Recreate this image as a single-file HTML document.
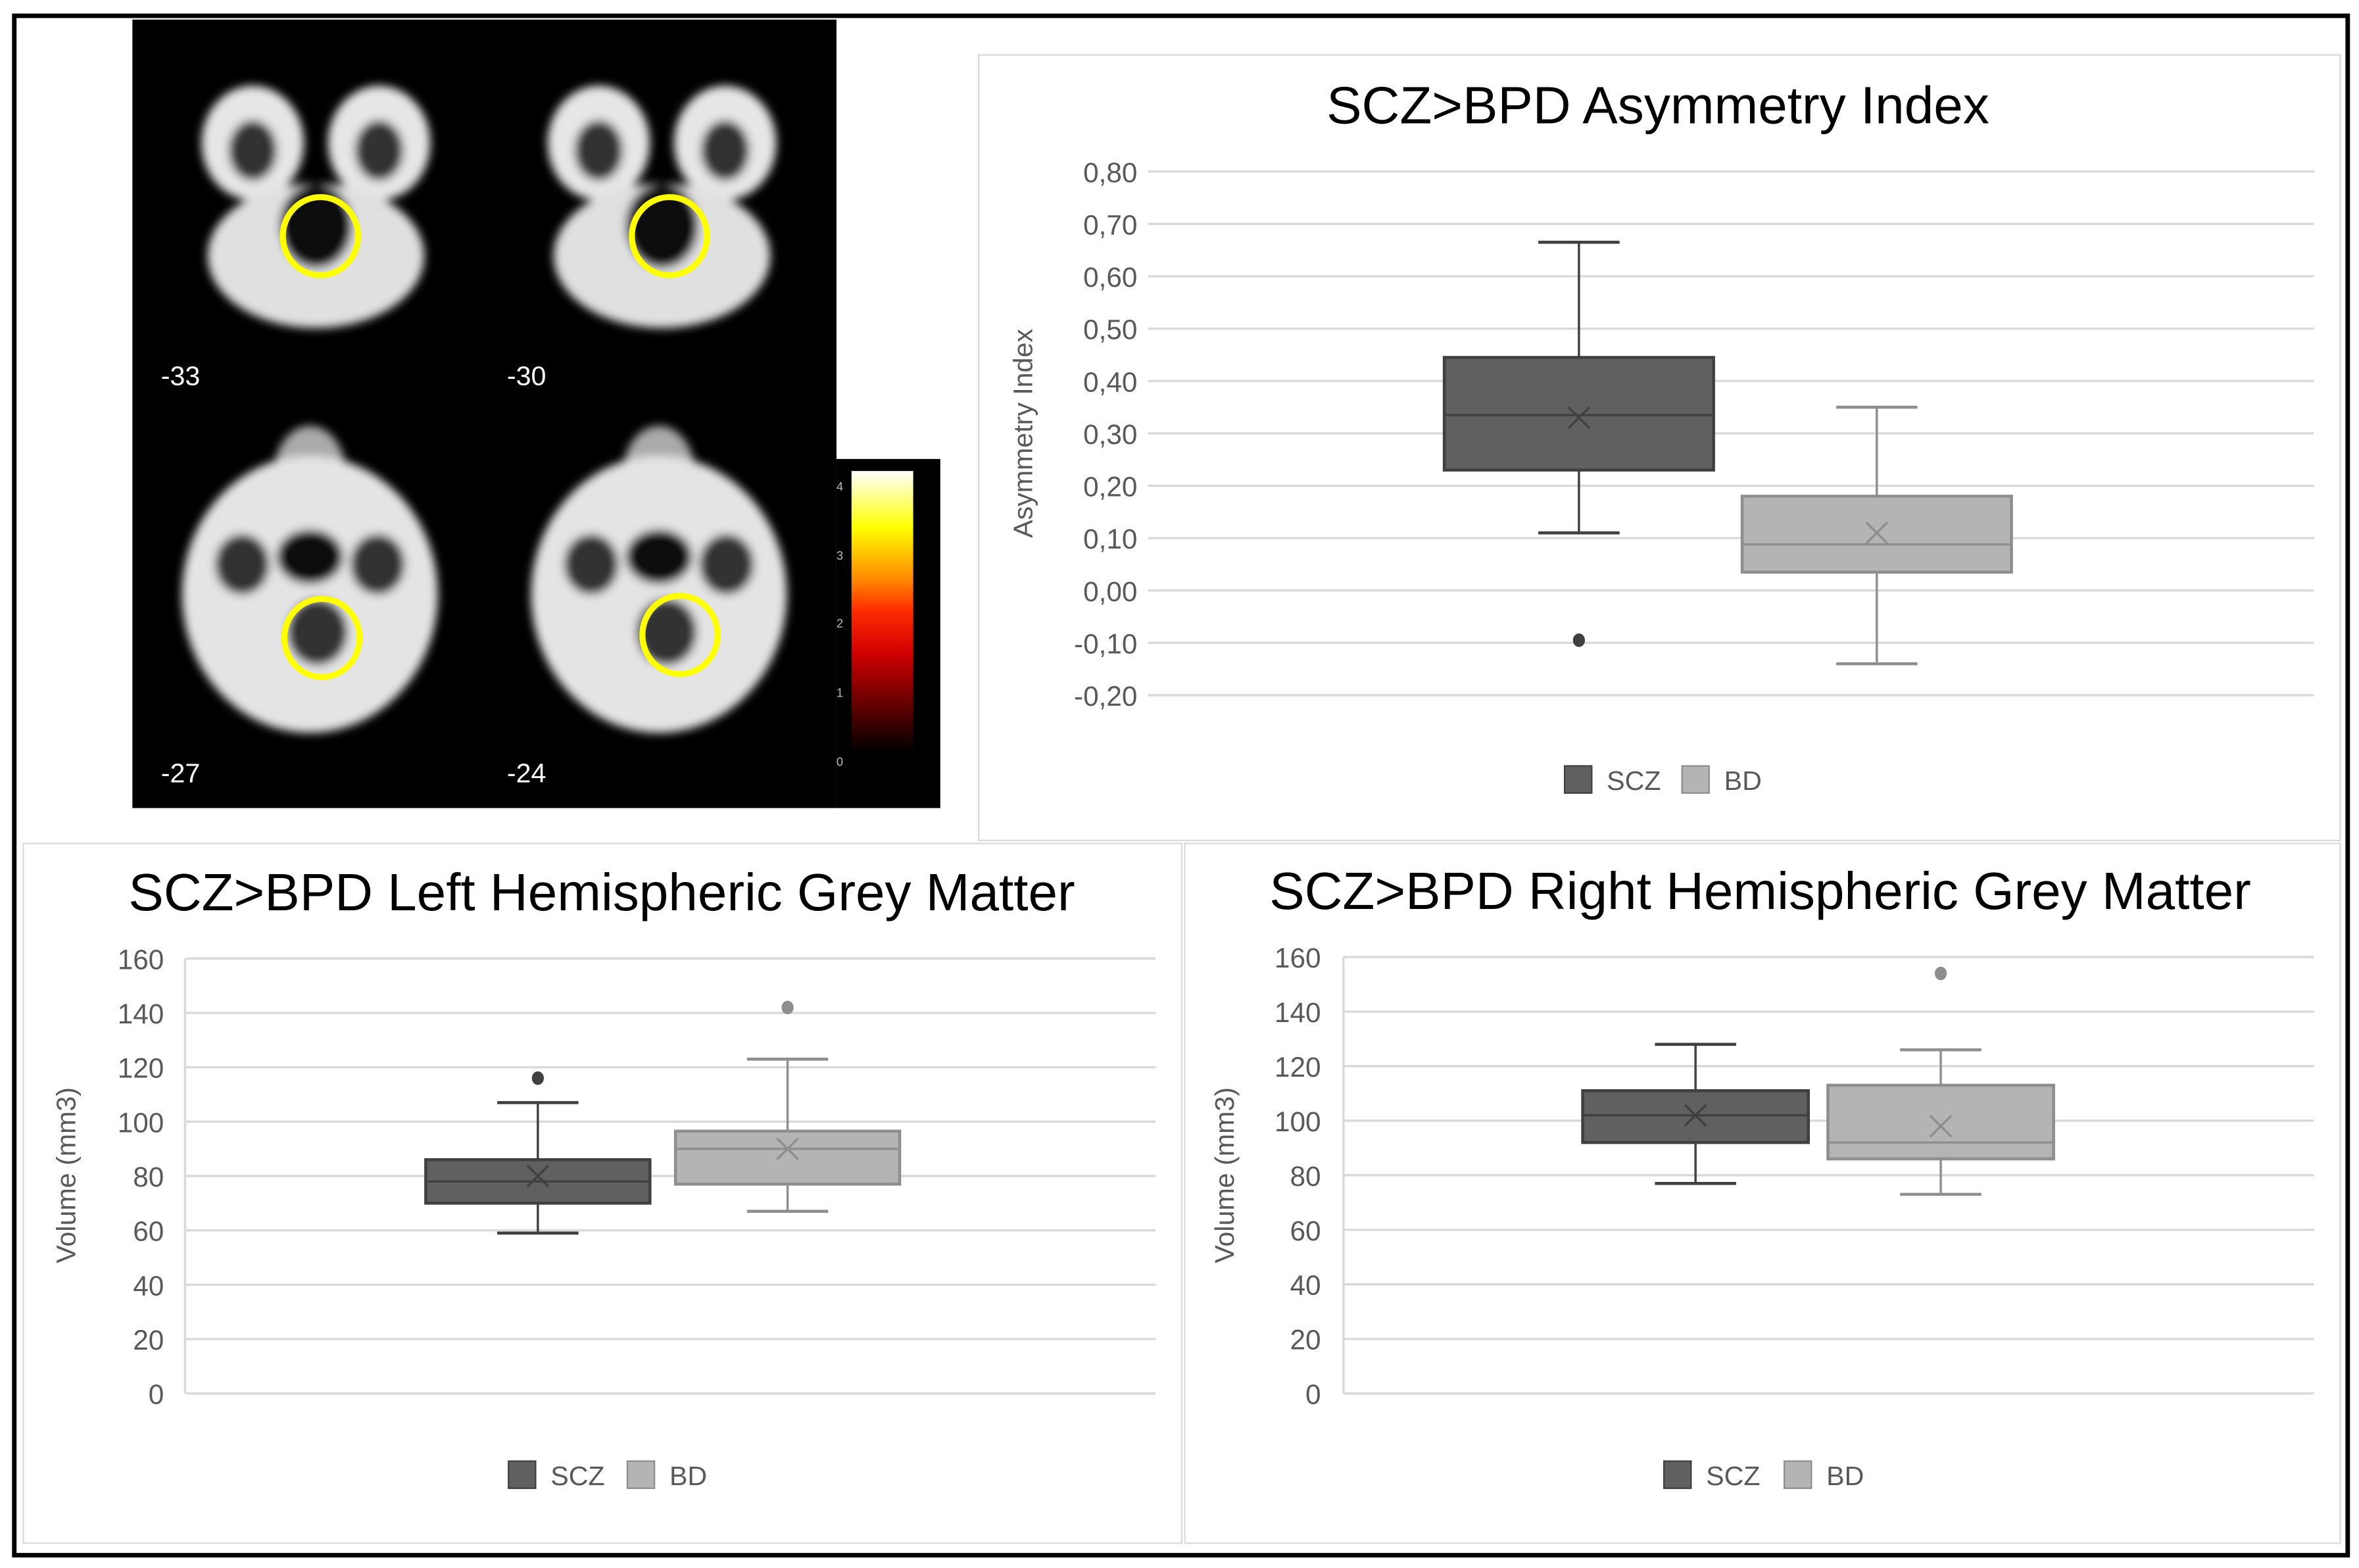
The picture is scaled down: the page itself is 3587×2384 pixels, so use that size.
<!DOCTYPE html>
<html><head><meta charset="utf-8"><style>
html,body{margin:0;padding:0;background:#fff;}
svg{display:block;}
text{font-family:"Liberation Sans",sans-serif;}
</style></head><body>
<svg id="fig" width="3587" height="2384" viewBox="0 0 1568 1042" preserveAspectRatio="none" xmlns="http://www.w3.org/2000/svg">
<defs>
<filter id="blur" x="-20%" y="-20%" width="140%" height="140%"><feGaussianBlur stdDeviation="3"/></filter>
<linearGradient id="cbar" x1="0" y1="1" x2="0" y2="0">
<stop offset="0" stop-color="#000"/><stop offset="0.35" stop-color="#d00000"/><stop offset="0.5" stop-color="#ff2a00"/><stop offset="0.62" stop-color="#ff8c00"/><stop offset="0.8" stop-color="#ffff00"/><stop offset="1" stop-color="#ffffff"/>
</linearGradient>
</defs>
<rect x="0" y="0" width="1568" height="1042" fill="#fff"/>
<rect x="9.5" y="10.5" width="1551" height="1023" fill="none" stroke="#000" stroke-width="3"/>

<g>
<rect x="88" y="13" width="468" height="524" fill="#000"/>
<rect x="556" y="305" width="69" height="232" fill="#000"/>
<rect x="566" y="313" width="41" height="187" fill="url(#cbar)"/>
<g fill="#bbb" font-size="8">
<text x="556" y="326">4</text><text x="556" y="372">3</text><text x="556" y="417">2</text><text x="556" y="463">1</text><text x="556" y="509">0</text>
</g>
<g id="brains" filter="url(#blur)"></g>
<g fill="none" stroke="#ffff00" stroke-width="4">
<ellipse cx="213" cy="157" rx="25" ry="26"/>
<ellipse cx="445" cy="157" rx="25" ry="26"/>
<ellipse cx="214" cy="424" rx="25" ry="26"/>
<ellipse cx="452" cy="422" rx="25" ry="26"/>
</g>
<g fill="#fff" font-size="18">
<text x="107" y="256">-33</text>
<text x="337" y="256">-30</text>
<text x="107" y="520">-27</text>
<text x="337" y="520">-24</text>
</g>
</g>

<rect x="650.5" y="36.5" width="905" height="522" fill="none" stroke="#d9d9d9"/>
<rect x="15.5" y="560.5" width="770" height="465" fill="none" stroke="#d9d9d9"/>
<rect x="787.5" y="560.5" width="768" height="465" fill="none" stroke="#d9d9d9"/>
<g id="charts"></g>
</svg>
<script>
// ---- Chart data ----
var categories = ["SCZ", "BD"];
// Asymmetry index: [min whisker, q1, median, q3, max whisker, mean]
var asymSCZ = [0.11, 0.23, 0.335, 0.445, 0.665, 0.33];
var asymBD = [-0.14, 0.035, 0.088, 0.18, 0.35, 0.11];
var asymOutSCZ = [-0.095];
var asymOutBD = [];
var asymTicks = ["-0,20","-0,10","0,00","0,10","0,20","0,30","0,40","0,50","0,60","0,70","0,80"];
var asymTickVals = [-0.2,-0.1,0,0.1,0.2,0.3,0.4,0.5,0.6,0.7,0.8];
// Left hemispheric grey matter
var leftSCZ = [59, 70, 78, 86, 107, 80];
var leftBD = [67, 77, 90, 96.5, 123, 90];
var leftOutSCZ = [116];
var leftOutBD = [142];
// Right hemispheric grey matter
var rightSCZ = [77, 92, 102, 111, 128, 102];
var rightBD = [73, 86, 92, 113, 126, 98];
var rightOutSCZ = [];
var rightOutBD = [154];
var volTicks = ["0","20","40","60","80","100","120","140","160"];
var volTickVals = [0,20,40,60,80,100,120,140,160];

var NS = "http://www.w3.org/2000/svg";
var root = document.getElementById("charts");
function mk(tag, attrs, parent, txt) {
  var e = document.createElementNS(NS, tag);
  for (var k in attrs) e.setAttribute(k, attrs[k]);
  if (txt !== undefined) e.textContent = txt;
  (parent || root).appendChild(e);
  return e;
}
var styles = [{fill:"#606060", stroke:"#404040"}, {fill:"#b4b4b4", stroke:"#8e8e8e"}];

function chart(cfg) {
  var g = mk("g", {});
  
  
  var vmin = cfg.tickVals[0], vmax = cfg.tickVals[cfg.tickVals.length-1];
  function y(v) { return cfg.yBottom - (v - vmin) / (vmax - vmin) * (cfg.yBottom - cfg.yTop); }
  var t = mk("text", {x: cfg.titleX, y: cfg.titleY, "font-size": 35, "text-anchor": "middle", fill: "#000"}, g, cfg.title);
  
  
  for (var i = 0; i < cfg.tickVals.length; i++) {
    var yy = y(cfg.tickVals[i]);
    var gl = mk("line", {x1: cfg.x0, x2: cfg.x1, y1: yy, y2: yy, stroke: "#d9d9d9", "stroke-width": 1.5}, g);
    
    
    var tl = mk("text", {x: cfg.labelX, y: yy + 7, "font-size": 18.5, "text-anchor": "end", fill: "#595959"}, g, cfg.ticks[i]);
    
    
  }
  if (cfg.axisLine) {
    var al = mk("line", {x1: cfg.x0, x2: cfg.x0, y1: cfg.yTop, y2: cfg.yBottom, stroke: "#d9d9d9", "stroke-width": 1.5}, g);
    
    
  }
  var at = mk("text", {x: 0, y: 0, "font-size": 18, "text-anchor": "middle", fill: "#595959", transform: "translate(" + cfg.axisTitleX + "," + cfg.axisTitleY + ") rotate(-90)"}, g, cfg.axisTitle);
  
  
  for (var s = 0; s < cfg.series.length; s++) {
    var d = cfg.series[s], st = styles[s];
    var bx0 = cfg.boxX[s], bw = cfg.boxW, cx = bx0 + bw / 2, cw = 27;
    var bg = mk("g", {}, g);
    
    
    mk("line", {x1: cx, x2: cx, y1: y(d[0]), y2: y(d[1]), stroke: st.stroke, "stroke-width": 1.5}, bg);
    mk("line", {x1: cx, x2: cx, y1: y(d[3]), y2: y(d[4]), stroke: st.stroke, "stroke-width": 1.5}, bg);
    mk("line", {x1: cx - cw, x2: cx + cw, y1: y(d[0]), y2: y(d[0]), stroke: st.stroke, "stroke-width": 2}, bg);
    mk("line", {x1: cx - cw, x2: cx + cw, y1: y(d[4]), y2: y(d[4]), stroke: st.stroke, "stroke-width": 2}, bg);
    mk("rect", {x: bx0, y: y(d[3]), width: bw, height: y(d[1]) - y(d[3]), fill: st.fill, stroke: st.stroke, "stroke-width": 2}, bg);
    mk("line", {x1: bx0, x2: bx0 + bw, y1: y(d[2]), y2: y(d[2]), stroke: st.stroke, "stroke-width": 1.5}, bg);
    var my = y(d[5]);
    mk("path", {d: "M" + (cx-7) + " " + (my-7) + "L" + (cx+7) + " " + (my+7) + "M" + (cx+7) + " " + (my-7) + "L" + (cx-7) + " " + (my+7), stroke: st.stroke, "stroke-width": 1.5, fill: "none"}, bg);
    var outs = cfg.outliers[s];
    for (var o = 0; o < outs.length; o++) {
      var c = mk("ellipse", {cx: cx, cy: y(outs[o]), rx: 4, ry: 4.5, fill: st.stroke}, bg);
      
      
    }
  }
  var lx = cfg.legendX;
  for (var l = 0; l < categories.length; l++) {
    var lg = mk("g", {}, g);
    
    
    mk("rect", {x: lx + (l ? cfg.legendGap : 0), y: cfg.legendY - 9, width: 18, height: 18, fill: styles[l].fill, stroke: styles[l].stroke}, lg);
    mk("text", {x: lx + (l ? cfg.legendGap : 0) + 28, y: cfg.legendY + 7, "font-size": 18, fill: "#595959"}, lg, categories[l]);
  }
}

chart({name: "asymmetry-chart", title: "SCZ>BPD Asymmetry Index", titleX: 1102, titleY: 82,
  x0: 763, x1: 1538, yTop: 114, yBottom: 462, labelX: 756, ticks: asymTicks, tickVals: asymTickVals,
  axisTitle: "Asymmetry Index", axisTitleX: 686, axisTitleY: 288, axisLine: false,
  series: [asymSCZ, asymBD], outliers: [asymOutSCZ, asymOutBD], boxX: [960, 1158], boxW: 179,
  legendX: 1040, legendGap: 78, legendY: 518});
chart({name: "left-gm-chart", title: "SCZ>BPD Left Hemispheric Grey Matter", titleX: 400, titleY: 605,
  x0: 123, x1: 768, yTop: 637, yBottom: 926, labelX: 109, ticks: volTicks, tickVals: volTickVals,
  axisTitle: "Volume (mm3)", axisTitleX: 50, axisTitleY: 781, axisLine: true,
  series: [leftSCZ, leftBD], outliers: [leftOutSCZ, leftOutBD], boxX: [283, 449], boxW: 149,
  legendX: 338, legendGap: 79, legendY: 980});
chart({name: "right-gm-chart", title: "SCZ>BPD Right Hemispheric Grey Matter", titleX: 1170, titleY: 604,
  x0: 893, x1: 1538, yTop: 636, yBottom: 926, labelX: 878, ticks: volTicks, tickVals: volTickVals,
  axisTitle: "Volume (mm3)", axisTitleX: 820, axisTitleY: 781, axisLine: true,
  series: [rightSCZ, rightBD], outliers: [rightOutSCZ, rightOutBD], boxX: [1052, 1215], boxW: 150,
  legendX: 1106, legendGap: 80, legendY: 980});

// Decorative brain slices (approximate shapes)
var bg2 = document.getElementById("brains");
function brain(cx, cy, big) {
  var g = mk("g", {}, bg2);
  
  
  if (!big) {
    mk("ellipse", {cx: cx-42, cy: cy-50, rx: 34, ry: 38, fill: "#e6e6e6"}, g);
    mk("ellipse", {cx: cx+42, cy: cy-50, rx: 34, ry: 38, fill: "#e6e6e6"}, g);
    mk("ellipse", {cx: cx-42, cy: cy-45, rx: 16, ry: 20, fill: "#333"}, g);
    mk("ellipse", {cx: cx+42, cy: cy-45, rx: 16, ry: 20, fill: "#333"}, g);
    mk("ellipse", {cx: cx, cy: cy+25, rx: 72, ry: 48, fill: "#e0e0e0"}, g);
    mk("ellipse", {cx: cx, cy: cy+5, rx: 24, ry: 28, fill: "#111"}, g);
  } else {
    mk("ellipse", {cx: cx, cy: cy-80, rx: 24, ry: 32, fill: "#aaa"}, g);
    mk("ellipse", {cx: cx, cy: cy, rx: 85, ry: 92, fill: "#e4e4e4"}, g);
    mk("ellipse", {cx: cx-45, cy: cy-20, rx: 18, ry: 20, fill: "#333"}, g);
    mk("ellipse", {cx: cx+45, cy: cy-20, rx: 18, ry: 20, fill: "#333"}, g);
    mk("ellipse", {cx: cx, cy: cy-25, rx: 22, ry: 18, fill: "#111"}, g);
    mk("ellipse", {cx: cx+5, cy: cy+25, rx: 20, ry: 22, fill: "#333"}, g);
  }
}
brain(210, 145, false);
brain(440, 145, false);
brain(206, 395, true);
brain(438, 395, true);
</script>
</body></html>
